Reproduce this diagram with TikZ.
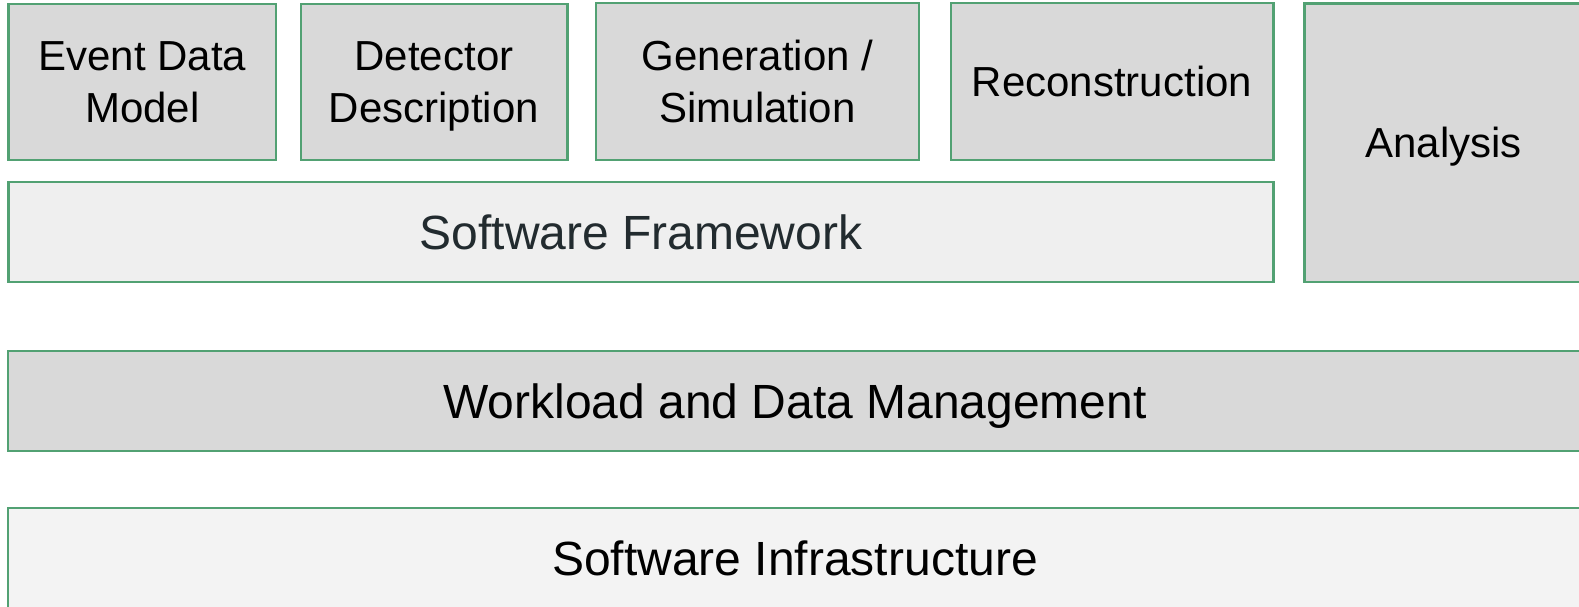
\documentclass[tikz,border=0pt]{standalone}
\usepackage{fontspec}
\setmainfont{Liberation Sans}
\definecolor{edgegreen}{HTML}{52A173}
\definecolor{darkfill}{HTML}{D9D9D9}
\definecolor{lightfill}{HTML}{EFEFEF}
\definecolor{palefill}{HTML}{F3F3F3}
\definecolor{slatetext}{HTML}{222B2F}
\begin{document}
\begin{tikzpicture}[x=0.5pt, y=-0.5pt,
    layer/.style = {draw=edgegreen, line width=1.2pt, inner sep=0pt, outer sep=0pt,
                    align=center, font=\fontsize{21}{25.8}\selectfont},
    topbox/.style = {layer, fill=darkfill},
    wide/.style = {layer, font=\fontsize{24}{28}\selectfont}]
    \clip (0,0) rectangle (1579,606);
    \useasboundingbox (0,0) rectangle (1579,606);

    % top row
    \node[topbox, minimum width=133.75pt, minimum height=78pt] (edm) at (142.25,82) {Event Data\\Model};
    \node[topbox, text depth=0pt, minimum width=133.3pt, minimum height=78pt] (det) at (434,82) {Detector\\Description};
    \node[topbox, minimum width=161.5pt, minimum height=78.5pt] (gen) at (757.5,81.5) {Generation /\\Simulation};
    \node[topbox, minimum width=161.3pt, minimum height=78.5pt] (rec) at (1112,81.5) {Reconstruction};
    \node[topbox, text depth=0pt, minimum width=139.2pt, minimum height=139.35pt] (ana) at (1443.5,142.65) {Analysis};

    % layers
    \node[wide, fill=lightfill, text=slatetext, minimum width=632.4pt, minimum height=50pt] (fw) at (641,232) {Software Framework};
    \node[wide, fill=darkfill, text depth=0pt, minimum width=786.75pt, minimum height=50pt] (wdm) at (795,401) {Workload and Data Management};
    \node[wide, fill=palefill, minimum width=786.75pt, minimum height=51pt] (inf) at (795,558.7) {Software Infrastructure};
\end{tikzpicture}
\end{document}
